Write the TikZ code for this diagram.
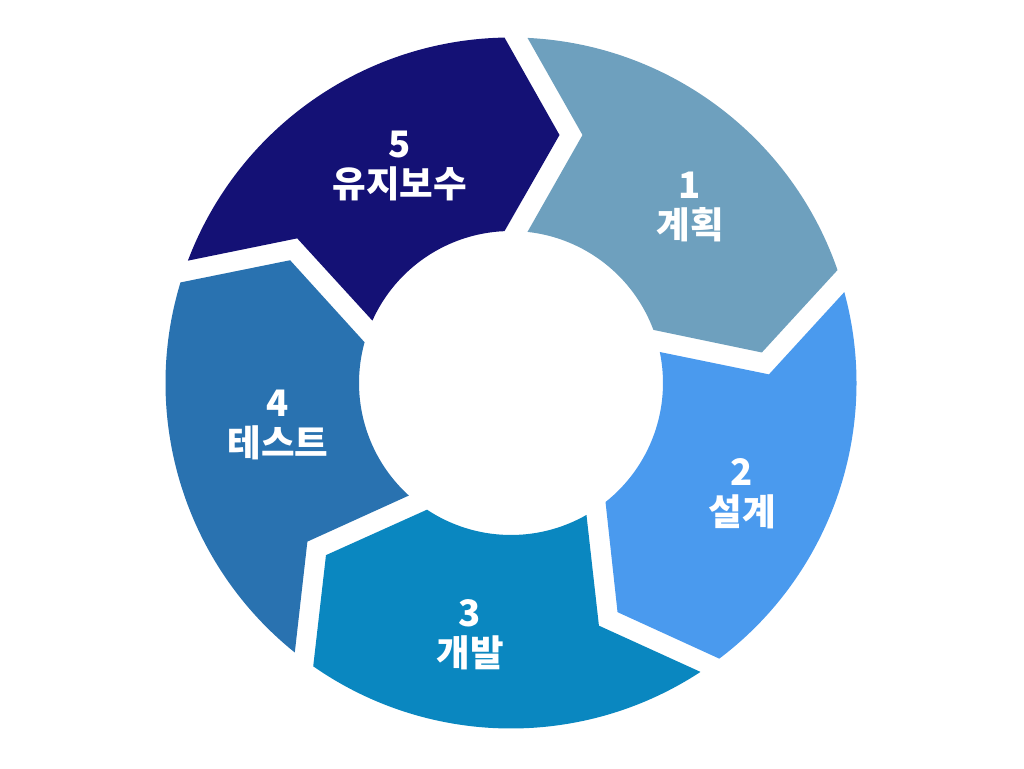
\documentclass[tikz,border=0pt]{standalone}
\usepackage{fontspec}
\setmainfont{Noto Sans CJK KR}
\usetikzlibrary{calc}

\definecolor{segone}{RGB}{110,160,190}
\definecolor{segtwo}{RGB}{74,154,238}
\definecolor{segthree}{RGB}{10,135,192}
\definecolor{segfour}{RGB}{41,114,176}
\definecolor{segfive}{RGB}{20,17,117}

% One block of the ring: #1 = start boundary angle, #2 = fill colour.
% The block runs clockwise over 72 degrees, ends in a chevron tip and
% starts with a matching notch; gaps are 23pt wide.
\newcommand{\ringblock}[2]{%
  \pgfmathsetmacro{\sa}{#1}%
  \pgfmathsetmacro{\ea}{#1-72}%
  \fill[#2]
    (\sa-2.741:345.5pt)
    arc[start angle=\sa-2.741, end angle=\ea+1.078, radius=345.5pt]
    -- ($(\ea:248pt)+(\ea-90:48.5pt)$)
    -- (\ea+2.451:152pt)
    arc[start angle=\ea+2.451, end angle=\sa-6.231, radius=152pt]
    -- ($(\sa:248pt)+(\sa-90:71.5pt)$)
    -- cycle;}

\tikzset{
  steplabel/.style={text=white, align=center, font=\bfseries\fontsize{36.5}{40}\selectfont, inner sep=0pt}
}

\begin{document}
\begin{tikzpicture}
  \useasboundingbox (-511pt,-385pt) rectangle (513pt,383pt);

  \ringblock{90}{segone}
  \ringblock{18}{segtwo}
  \ringblock{-54}{segthree}
  \ringblock{-126}{segfour}
  \ringblock{-198}{segfive}

  \node[steplabel] (plan)   at (179pt,176pt)   {1\\계획};
  \node[steplabel] (design) at (231pt,-111pt)  {2\\설계};
  \node[steplabel] (build)  at (-41pt,-252pt)  {3\\개발};
  \node[steplabel] (test)   at (-233pt,-42pt)  {4\\테스트};
  \node[steplabel] (care)   at (-111pt,217pt)  {5\\유지보수};
\end{tikzpicture}
\end{document}
